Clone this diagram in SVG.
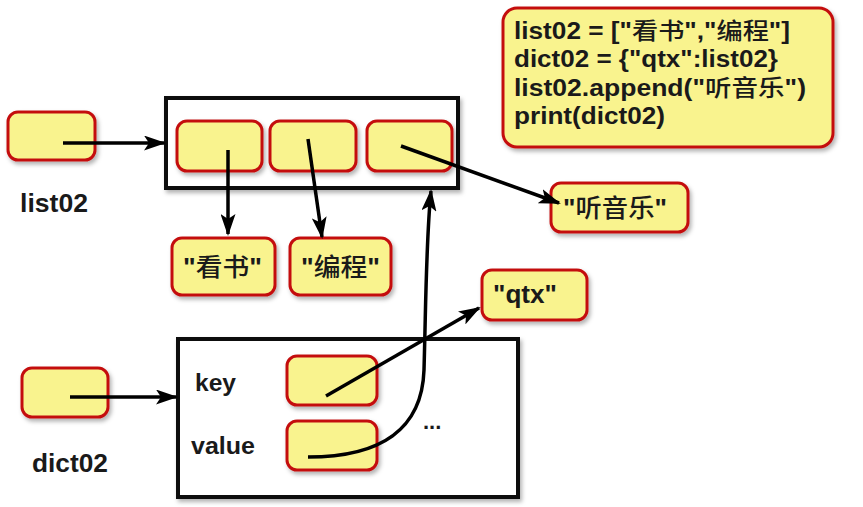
<svg xmlns="http://www.w3.org/2000/svg" width="863" height="507" viewBox="0 0 863 507">
<defs>
<filter id="sh" x="-20%" y="-20%" width="150%" height="150%">
<feDropShadow dx="2" dy="3" stdDeviation="2" flood-color="#000" flood-opacity="0.3"/>
</filter>
<marker id="ah" viewBox="0 0 22 15" refX="20" refY="7.5" markerWidth="22" markerHeight="15" orient="auto" markerUnits="userSpaceOnUse">
<path d="M0,0 L22,7.5 L0,15 L5,7.5 Z" fill="#000"/>
</marker>
</defs>
<style>
.cell{fill:#f9f38e;stroke:#c41010;stroke-width:3;filter:url(#sh)}
.box{fill:#fff;stroke:#111;stroke-width:4;filter:url(#sh)}
.t{font-family:"Liberation Sans","Noto Sans CJK SC",sans-serif;font-weight:bold;fill:#1a1a1a}
.cj{font-family:"Noto Sans CJK SC",sans-serif;font-weight:500}
.c{stroke:#000;stroke-width:3.5;fill:none}
</style>
<rect width="863" height="507" fill="#fff"/>
<g id="code">
<rect class="cell" x="503" y="8" width="330" height="139" rx="14"/>
<text class="t" font-size="23" x="514" y="39" textLength="276" lengthAdjust="spacingAndGlyphs">list02 = ["<tspan class="cj">看书</tspan>","<tspan class="cj">编程</tspan>"]</text>
<text class="t" font-size="23" x="514" y="67" textLength="264" lengthAdjust="spacingAndGlyphs">dict02 = {"qtx":list02}</text>
<text class="t" font-size="23" x="514" y="96" textLength="292" lengthAdjust="spacingAndGlyphs">list02.append("<tspan class="cj">听音乐</tspan>")</text>
<text class="t" font-size="23" x="514" y="124" textLength="151" lengthAdjust="spacingAndGlyphs">print(dict02)</text>
</g>
<g id="list02-var">
<rect class="cell" x="8" y="112" width="87" height="48" rx="10"/>
<text class="t" font-size="25" x="20" y="212" textLength="68" lengthAdjust="spacingAndGlyphs">list02</text>
</g>
<g id="list02-obj">
<rect class="box" x="166" y="98" width="292" height="90"/>
<rect class="cell" x="177" y="121" width="85" height="50" rx="10"/>
<rect class="cell" x="270" y="121" width="86" height="50" rx="10"/>
<rect class="cell" x="367" y="121" width="85" height="50" rx="10"/>
</g>
<g id="s-kanshu">
<rect class="cell" x="172" y="238" width="103" height="57" rx="10"/>
<text class="t" font-size="25" x="183" y="276" textLength="79" lengthAdjust="spacingAndGlyphs">"<tspan class="cj">看书</tspan>"</text>
</g>
<g id="s-biancheng">
<rect class="cell" x="290" y="238" width="101" height="57" rx="10"/>
<text class="t" font-size="25" x="301" y="276" textLength="79" lengthAdjust="spacingAndGlyphs">"<tspan class="cj">编程</tspan>"</text>
</g>
<g id="s-tingyinyue">
<rect class="cell" x="551" y="183" width="137" height="49" rx="10"/>
<text class="t" font-size="25" x="563" y="217" textLength="104" lengthAdjust="spacingAndGlyphs">"<tspan class="cj">听音乐</tspan>"</text>
</g>
<g id="s-qtx">
<rect class="cell" x="482" y="270" width="105" height="50" rx="10"/>
<text class="t" font-size="25" x="493" y="303" textLength="64" lengthAdjust="spacingAndGlyphs">"qtx"</text>
</g>
<g id="dict02-var">
<rect class="cell" x="22" y="368" width="86" height="49" rx="10"/>
<text class="t" font-size="25" x="32" y="472" textLength="76" lengthAdjust="spacingAndGlyphs">dict02</text>
</g>
<g id="dict02-obj">
<rect class="box" x="178" y="339" width="340" height="158"/>
<text class="t" font-size="24" x="195" y="391" textLength="41" lengthAdjust="spacingAndGlyphs">key</text>
<text class="t" font-size="24" x="191" y="454" textLength="64" lengthAdjust="spacingAndGlyphs">value</text>
<rect class="cell" x="287" y="356" width="90" height="49" rx="10"/>
<rect class="cell" x="287" y="421" width="90" height="49" rx="10"/>
<text class="t" font-size="22" x="423" y="429">...</text>
</g>
<g id="connectors">
<line class="c" x1="63" y1="143" x2="164" y2="143" marker-end="url(#ah)"/>
<line class="c" x1="228" y1="150" x2="228" y2="234" marker-end="url(#ah)"/>
<line class="c" x1="308" y1="139" x2="322" y2="237" marker-end="url(#ah)"/>
<line class="c" x1="401" y1="146" x2="559" y2="203" marker-end="url(#ah)"/>
<line class="c" x1="326" y1="396" x2="479" y2="308" marker-end="url(#ah)"/>
<path class="c" d="M308,457 C380,457 422,430 424,370 C426,300 426,240 431,191" marker-end="url(#ah)"/>
<line class="c" x1="70" y1="397" x2="176" y2="397" marker-end="url(#ah)"/>
</g>
</svg>
